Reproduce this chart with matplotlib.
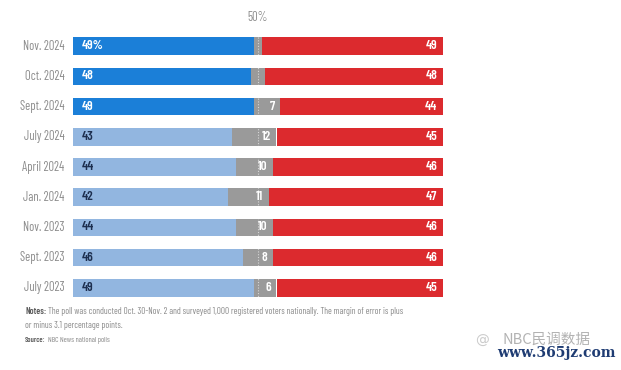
import numpy as np
import matplotlib.pyplot as plt

# Poll data (top row first)
periods = ['Nov. 2024', 'Oct. 2024', 'Sept. 2024', 'July 2024', 'April 2024',
           'Jan. 2024', 'Nov. 2023', 'Sept. 2023', 'July 2023']
dem = [49, 48, 49, 43, 44, 42, 44, 46, 49]
mid = [2, 4, 7, 12, 10, 11, 10, 8, 6]
rep = [49, 48, 44, 45, 46, 47, 46, 46, 45]
mid_labels = ['', '', '7', '12', '10', '11', '10', '8', '6']
dem_labels = ['49%', '48', '49', '43', '44', '42', '44', '46', '49']

DARK_BLUE = '#1b7fd8'
LIGHT_BLUE = '#92b6e0'
GRAY = '#9a9a9a'
RED = '#dc2a2e'
NAVY = '#1d2f4f'

plt.rcParams['font.family'] = ['Barlow Condensed', 'Noto Sans CJK SC', 'DejaVu Sans']

fig = plt.figure(figsize=(6.21, 3.70), dpi=100)
ax = fig.add_axes([73 / 621, 67 / 370, 370 / 621, 272 / 370])

y = np.arange(len(periods))
h = 0.58
dem = np.array(dem)
mid = np.array(mid)
rep = np.array(rep)

for i in range(len(periods)):
    bc = DARK_BLUE if i < 3 else LIGHT_BLUE
    tc = 'white' if i < 3 else NAVY
    ax.barh(y[i], dem[i], height=h, color=bc, linewidth=0)
    ax.barh(y[i], mid[i], left=dem[i], height=h, color=GRAY, linewidth=0)
    ax.barh(y[i], rep[i], left=dem[i] + mid[i], height=h, color=RED, linewidth=0)
    ax.text(2.5, y[i], dem_labels[i], color=tc, fontsize=9.5, fontweight='semibold',
            va='center', ha='left')
    if mid_labels[i]:
        ax.text(dem[i] + mid[i] - 1.5, y[i], mid_labels[i], color='white', fontsize=9.5,
                fontweight='semibold', va='center', ha='right')
    ax.text(98.5, y[i], str(rep[i]), color='white', fontsize=9.5, fontweight='semibold',
            va='center', ha='right')
    ax.text(-2.3, y[i], periods[i], color='#8c8c8c', fontsize=9, fontweight='normal',
            va='center', ha='right')

# dotted 50% line
ax.vlines(50, -0.29, len(periods) - 0.71, colors='white', linestyles=(0, (1, 1.5)),
          linewidth=0.8, alpha=0.6)
ax.text(50, -0.72, '50%', color='#8c8c8c', fontsize=9, fontweight='normal',
        ha='center', va='bottom')

ax.set_xlim(0, 100)
ax.set_ylim(len(periods) - 0.5, -0.5)
ax.axis('off')

renderer = fig.canvas.get_renderer()


def bold_lead(x, yy, lead, rest, size):
    t = fig.text(x, yy, lead, fontsize=size, color='#5a5a5a', fontweight='semibold', va='center')
    bb = t.get_window_extent(renderer=renderer)
    fig.text(bb.x1 / fig.bbox.width + 2 / 621, yy, rest, fontsize=size,
             color='#8a8a8a', fontweight='normal', va='center')


bold_lead(25 / 621, 1 - 312 / 370, 'Notes:',
          'The poll was conducted Oct. 30-Nov. 2 and surveyed 1,000 registered voters nationally. The margin of error is plus',
          6.6)
fig.text(25 / 621, 1 - 325 / 370, 'or minus 3.1 percentage points.',
         fontsize=6.6, color='#8a8a8a', fontweight='normal', va='center')
bold_lead(25 / 621, 1 - 340 / 370, 'Source:', 'NBC News national polls', 5.5)

# watermark
fig.text(482 / 621, 1 - 341 / 370, '@', fontsize=10, color='#cccccc',
         family=['DejaVu Sans'], va='center', ha='center')
fig.text(546 / 621, 1 - 340 / 370, 'NBC民调数据', fontsize=10.5, color='#a5a5a5',
         family=['Noto Sans CJK SC'], va='center', ha='center', alpha=0.85)
fig.text(556 / 621, 1 - 353 / 370, 'www.365jz.com', fontsize=10, color='#1f3c73',
         family=['DejaVu Serif'], fontweight='bold', va='center', ha='center')

fig.savefig('out.png', dpi=100, facecolor='white')
